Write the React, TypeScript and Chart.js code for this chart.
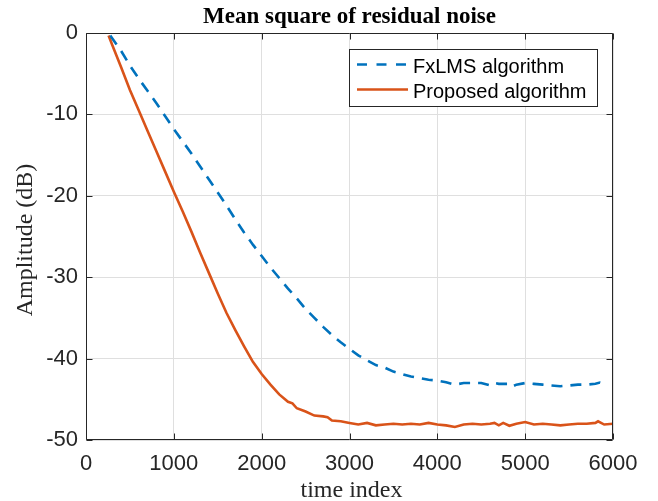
import React, { useEffect, useRef } from "react";
import { Chart, registerables } from "chart.js";

Chart.register(...registerables);

const titleText = "Mean square of residual noise";
const xLabel = "time index";
const yLabel = "Amplitude (dB)";
const seriesNames = ["FxLMS algorithm", "Proposed algorithm"];

const xTicks = [0, 1000, 2000, 3000, 4000, 5000, 6000];
const yTicks = [0, -10, -20, -30, -40, -50];

const fxlmsX = [276, 400, 500, 600, 700, 800, 900, 1000, 1100, 1200, 1300, 1400, 1500, 1600, 1700, 1800, 1900, 2000, 2100, 2200, 2300, 2400, 2500, 2600, 2700, 2800, 2900, 3000, 3100, 3200, 3300, 3400, 3500, 3600, 3700, 3800, 3900, 4000, 4100, 4200, 4300, 4400, 4500, 4600, 4650, 4700, 4800, 4850, 4900, 5000, 5100, 5200, 5300, 5400, 5500, 5600, 5700, 5800, 5850, 5890];
const fxlmsY = [-0.3, -2.2, -4.0, -5.6, -7.1, -8.6, -10.2, -11.8, -13.3, -14.8, -16.4, -18.0, -19.6, -21.2, -22.9, -24.5, -26.0, -27.4, -28.8, -30.1, -31.4, -32.6, -33.9, -35.0, -36.1, -37.1, -38.0, -38.8, -39.6, -40.2, -40.8, -41.1, -41.6, -41.9, -42.2, -42.4, -42.6, -42.7, -42.9, -43.2, -43.0, -43.0, -43.0, -43.3, -43.0, -43.1, -43.1, -43.45, -43.2, -43.0, -43.1, -43.2, -43.3, -43.4, -43.3, -43.2, -43.2, -43.1, -42.95, -43.2];

const proposedX = [257, 300, 400, 500, 600, 700, 800, 900, 1000, 1100, 1200, 1300, 1400, 1500, 1600, 1700, 1800, 1900, 2000, 2100, 2200, 2300, 2350, 2400, 2500, 2600, 2700, 2750, 2800, 2900, 3000, 3100, 3200, 3300, 3400, 3500, 3600, 3700, 3800, 3900, 4000, 4100, 4200, 4300, 4400, 4500, 4600, 4650, 4700, 4750, 4820, 4900, 5000, 5100, 5200, 5300, 5400, 5500, 5600, 5700, 5800, 5830, 5900, 6000];
const proposedY = [-0.3, -1.5, -4.2, -7.0, -9.5, -12.0, -14.5, -17.0, -19.5, -21.9, -24.4, -27.0, -29.5, -32.0, -34.4, -36.5, -38.5, -40.4, -41.9, -43.2, -44.4, -45.3, -45.5, -46.1, -46.5, -47.0, -47.1, -47.2, -47.6, -47.7, -47.9, -48.1, -47.9, -48.2, -48.1, -48.0, -48.1, -48.0, -48.1, -47.9, -48.1, -48.2, -48.4, -48.1, -48.0, -48.1, -48.0, -47.9, -48.2, -47.9, -48.25, -48.0, -47.8, -48.1, -48.0, -48.1, -48.2, -48.1, -48.0, -48.0, -47.9, -47.7, -48.1, -48.0];

const BLUE = "#0072BD";
const RED = "#D95319";
const AXIS = "#262626";
const BLUE_DASH = [11, 8];

const framePlugin = {
  id: "frame",
  afterDatasetsDraw(chart: any) {
    const { ctx, chartArea: a, scales } = chart;
    ctx.save();
    ctx.strokeStyle = AXIS;
    ctx.lineWidth = 1;
    const L = Math.round(a.left) + 0.5;
    const R = Math.round(a.right) - 0.5;
    const T = Math.round(a.top) + 0.5;
    const B = Math.round(a.bottom) - 0.5;
    ctx.beginPath();
    ctx.rect(L, T, R - L, B - T);
    ctx.stroke();
    const tl = 6;
    ctx.beginPath();
    for (const v of xTicks) {
      const px = Math.round(scales.x.getPixelForValue(v)) + 0.5;
      ctx.moveTo(px, B);
      ctx.lineTo(px, B - tl);
      ctx.moveTo(px, T);
      ctx.lineTo(px, T + tl);
    }
    for (const v of yTicks) {
      const py = Math.round(scales.y.getPixelForValue(v)) + 0.5;
      ctx.moveTo(L, py);
      ctx.lineTo(L + tl, py);
      ctx.moveTo(R, py);
      ctx.lineTo(R - tl, py);
    }
    ctx.stroke();
    ctx.restore();
  },
  afterDraw(chart: any) {
    const { ctx, chartArea: a } = chart;
    ctx.save();
    // title
    ctx.fillStyle = "#000";
    ctx.font = "bold 23px 'Liberation Serif'";
    ctx.textAlign = "center";
    ctx.textBaseline = "alphabetic";
    ctx.fillText(titleText, (a.left + a.right) / 2, 23);
    // x label
    ctx.fillStyle = AXIS;
    ctx.font = "24px 'Liberation Serif'";
    ctx.fillText(xLabel, (a.left + a.right) / 2 + 2, 497);
    // y label
    ctx.save();
    ctx.translate(31.5, 240);
    ctx.rotate(-Math.PI / 2);
    ctx.fillText(yLabel, 0, 0);
    ctx.restore();
    // legend
    const bx = 349.5, by = 49.5, bw = 248, bh = 57;
    ctx.fillStyle = "#fff";
    ctx.fillRect(bx, by, bw, bh);
    ctx.strokeStyle = AXIS;
    ctx.lineWidth = 1;
    ctx.strokeRect(bx, by, bw, bh);
    const rows = [
      { name: seriesNames[0], color: BLUE, dash: [10, 9.5], y: 64.5 },
      { name: seriesNames[1], color: RED, dash: [], y: 89.5 },
    ];
    ctx.font = "20px 'Liberation Sans'";
    ctx.textAlign = "left";
    for (const r of rows) {
      ctx.strokeStyle = r.color;
      ctx.lineWidth = 2.5;
      ctx.setLineDash(r.dash);
      ctx.beginPath();
      ctx.moveTo(357, r.y);
      ctx.lineTo(408, r.y);
      ctx.stroke();
      ctx.setLineDash([]);
      ctx.fillStyle = "#000";
      ctx.fillText(r.name, 413, r.y + 8);
    }
    ctx.restore();
  },
};

export default function App() {
  const ref = useRef<HTMLCanvasElement>(null);
  useEffect(() => {
    if (!ref.current) return;
    const chart = new Chart(ref.current, {
      type: "line",
      data: {
        datasets: [
          {
            label: seriesNames[0],
            data: fxlmsX.map((x, i) => ({ x, y: fxlmsY[i] })),
            borderColor: BLUE,
            borderWidth: 2.6,
            borderDash: BLUE_DASH,
            pointRadius: 0,
            tension: 0,
            fill: false,
          },
          {
            label: seriesNames[1],
            data: proposedX.map((x, i) => ({ x, y: proposedY[i] })),
            borderColor: RED,
            borderWidth: 2.6,
            pointRadius: 0,
            tension: 0,
            fill: false,
          },
        ],
      },
      options: {
        animation: false,
        responsive: false,
        devicePixelRatio: 1,
        layout: { padding: { top: 33, right: 45, left: 0, bottom: 0 } },
        plugins: { legend: { display: false }, title: { display: false }, tooltip: { enabled: false } },
        scales: {
          x: {
            type: "linear",
            min: 0,
            max: 6000,
            afterBuildTicks: (s: any) => {
              s.ticks = xTicks.map((v) => ({ value: v }));
            },
            afterFit: (s: any) => {
              s.height = 61;
            },
            ticks: {
              callback: (v: any) => String(v),
              color: AXIS,
              font: { family: "'Liberation Sans'", size: 22 },
              padding: 11,
              maxRotation: 0,
              autoSkip: false,
            },
            grid: { color: "#dfdfdf", lineWidth: 1, drawTicks: false },
            border: { display: false },
          },
          y: {
            type: "linear",
            min: -50,
            max: 0,
            afterBuildTicks: (s: any) => {
              s.ticks = yTicks.map((v) => ({ value: v }));
            },
            afterFit: (s: any) => {
              s.width = 86;
            },
            ticks: {
              callback: (v: any) => String(v),
              color: AXIS,
              font: { family: "'Liberation Sans'", size: 22 },
              padding: 8,
              autoSkip: false,
            },
            grid: { color: "#dfdfdf", lineWidth: 1, drawTicks: false },
            border: { display: false },
          },
        },
      },
      plugins: [framePlugin],
    });
    return () => chart.destroy();
  }, []);
  return (
    <div style={{ position: "fixed", left: 0, top: 0, width: 658, height: 501, background: "#fff" }}>
      <canvas ref={ref} width={658} height={501} style={{ width: 658, height: 501 }} />
    </div>
  );
}
